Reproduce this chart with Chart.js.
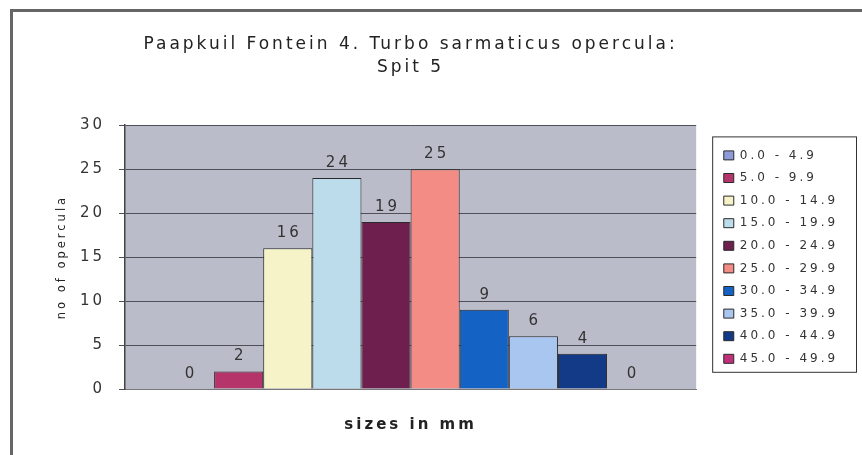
<!DOCTYPE html>
<html>
<head>
<meta charset="utf-8">
<script src="https://cdn.jsdelivr.net/npm/chart.js@4.4.1/dist/chart.umd.min.js"></script>
<style>
    body { margin: 0; background: #fff; overflow: hidden; }
    #wrap { position: relative; width: 862px; height: 455px; }
    #frame { position: absolute; left: 10px; top: 9px; width: 900px; height: 500px;
             border-left: 3px solid #666; border-top: 3px solid #666; pointer-events: none; }
</style>
</head>
<body>
<div id="wrap">
    <canvas id="chart" width="862" height="455"></canvas>
    <div id="frame"></div>
</div>
<script>
// data
const sizeClasses = ['0.0 - 4.9', '5.0 - 9.9', '10.0 - 14.9', '15.0 - 19.9', '20.0 - 24.9',
                     '25.0 - 29.9', '30.0 - 34.9', '35.0 - 39.9', '40.0 - 44.9', '45.0 - 49.9'];
const counts = [0, 2, 16, 24, 19, 25, 9, 6, 4, 0];
const barColours = ['#8f9ad8', '#b5356b', '#f6f3c8', '#bcdcec', '#6e1f4e',
                    '#f28c84', '#1462c4', '#a9c6f0', '#133a86', '#c0307a'];
const titleLines = ['Paapkuil Fontein 4. Turbo sarmaticus opercula:', 'Spit 5'];
const yMin = 0, yMax = 30, yStep = 5;

const fontName = "'DejaVu Sans', sans-serif";
const spacing = '3px';
Chart.defaults.font.family = fontName;

// the text in the original is stretched wide
const textSpacing = {
    id: 'textSpacing',
    beforeUpdate(chart) { chart.ctx.letterSpacing = spacing; },
    beforeLayout(chart) { chart.ctx.letterSpacing = spacing; },
    beforeDraw(chart) {
        const {ctx, chartArea: {left, top, width, height}} = chart;
        ctx.letterSpacing = spacing;
        ctx.save();
        ctx.fillStyle = '#bbbcc9';
        ctx.fillRect(left, top, width, height);
        ctx.restore();
    }
};

const valueLabels = {
    id: 'valueLabels',
    afterDatasetsDraw(chart) {
        const ctx = chart.ctx;
        ctx.save();
        ctx.letterSpacing = spacing;
        ctx.font = '15px ' + fontName;
        ctx.fillStyle = '#333';
        ctx.textAlign = 'center';
        ctx.textBaseline = 'middle';
        chart.data.datasets.forEach((ds, i) => {
            const bar = chart.getDatasetMeta(i).data[0];
            ctx.fillText(String(ds.data[0]), bar.x + 1.5, bar.y - 15);
        });
        ctx.restore();
    }
};

const legendBox = {
    id: 'legendBox',
    afterDraw(chart) {
        const legend = chart.legend;
        const boxes = legend.legendHitBoxes;
        if (!boxes || !boxes.length) return;
        const last = boxes[boxes.length - 1];
        const ctx = chart.ctx;
        ctx.save();
        ctx.strokeStyle = '#333';
        ctx.lineWidth = 1;
        ctx.strokeRect(legend.left - 0.5, boxes[0].top - 12.5, 857 - legend.left, last.top + last.height + 20 - boxes[0].top);
        ctx.restore();
    }
};

function drawOpercula(divName)
{
    const ctx = document.getElementById(divName).getContext('2d');
    const myChart = new Chart(ctx, {
        type: 'bar',
        data: {
            labels: ['Spit 5'],
            datasets: sizeClasses.map((label, i) => ({
                label: label,
                data: [counts[i]],
                backgroundColor: barColours[i],
                borderColor: '#2a2a2a',
                borderWidth: 1,
                categoryPercentage: 0.86,
                barPercentage: 1.0
            }))
        },
        options: {
            responsive: false,
            animation: false,
            layout: {
                padding: { left: 44, right: 15, top: 0, bottom: 0 }
            },
            plugins: {
                title: {
                    display: true,
                    fullSize: false,
                    text: titleLines,
                    color: '#222',
                    font: { size: 17, weight: 'normal', lineHeight: 1.3 },
                    padding: { top: 34, bottom: 47 }
                },
                legend: {
                    position: 'right',
                    fullSize: false,
                    labels: {
                        color: '#333',
                        font: { size: 12 },
                        boxWidth: 10,
                        boxHeight: 9,
                        padding: 10.6
                    }
                },
                tooltip: { enabled: false }
            },
            scales: {
                x: {
                    grid: { display: false },
                    ticks: { display: false },
                    border: { display: true, color: '#777' },
                    title: {
                        display: true,
                        text: 'sizes in mm',
                        color: '#222',
                        font: { size: 15, weight: 'bold' },
                        padding: { top: 19, bottom: 21 }
                    }
                },
                y: {
                    min: yMin,
                    max: yMax,
                    ticks: { stepSize: yStep, padding: 14, color: '#333', font: { size: 15 } },
                    grid: { color: '#4f4f58', tickLength: 6 },
                    border: { color: '#444', width: 1.5 },
                    title: {
                        display: true,
                        text: 'no of opercula',
                        color: '#222',
                        font: { size: 11.5 },
                        padding: 11
                    },
                    afterFit: (scale) => { scale.width = 81; }
                },
                gap: {
                    type: 'linear',
                    position: 'right',
                    grid: { display: false },
                    ticks: { display: false },
                    border: { display: false },
                    afterFit: (scale) => { scale.width = 17; }
                }
            }
        },
        plugins: [textSpacing, valueLabels, legendBox]
    });
}

drawOpercula('chart');
</script>
</body>
</html>
